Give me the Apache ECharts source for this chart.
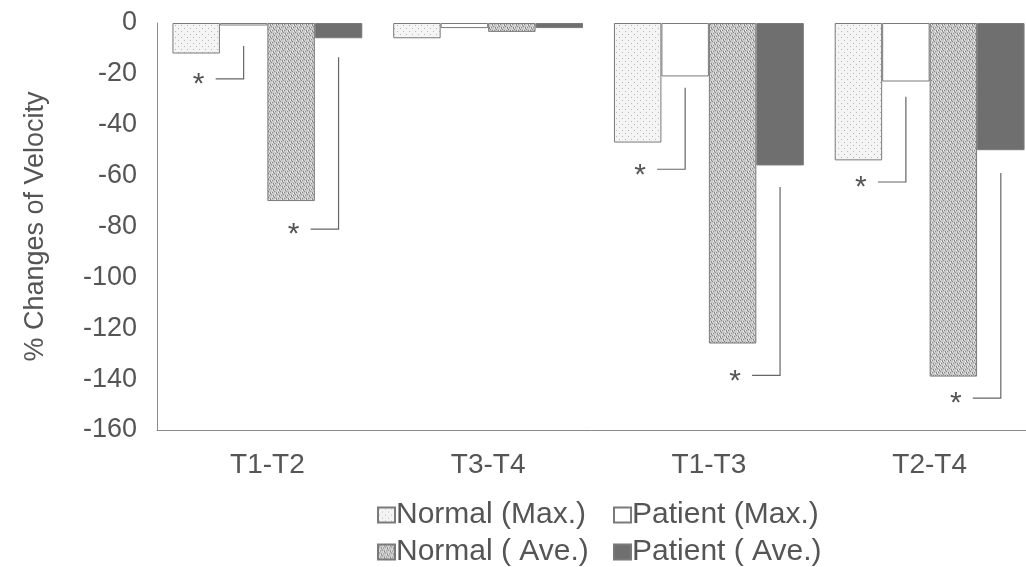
<!DOCTYPE html>
<html><head><meta charset="utf-8">
<script src="https://cdn.jsdelivr.net/npm/echarts@6/dist/echarts.min.js"></script>
<style>html,body{margin:0;padding:0;background:#fff}#c{width:1026px;height:567px}</style>
</head><body><div id="c"></div>
<script>
const categories = ['T1-T2', 'T3-T4', 'T1-T3', 'T2-T4'];
const normalMax = [-12, -6, -47, -54];
const patientMax = [-1, -2, -21, -23];
const normalAve = [-70, -3.5, -126, -139];
const patientAve = [-6, -2, -56, -50];
const seriesNames = ['Normal (Max.)', 'Patient (Max.)', 'Normal ( Ave.)', 'Patient ( Ave.)'];
const yTicks = { min: -160, max: 0, step: 20 };
// significance brackets: [categoryIndex, topValue, bottomValue, seriesIndexOfBar]
const brackets = [
  [0, -9, -22, 1], [0, -13.5, -81, 3],
  [2, -25.5, -57.5, 1], [2, -64.5, -138.5, 3],
  [3, -29, -62.5, 1], [3, -59, -147.5, 3]
];

function makePattern(w, h, draw) {
  const cv = document.createElement('canvas');
  cv.width = w; cv.height = h;
  const ctx = cv.getContext('2d');
  draw(ctx);
  return { image: cv, repeat: 'repeat' };
}
const dotPattern = makePattern(6, 6, ctx => {
  ctx.fillStyle = '#f4f4f4'; ctx.fillRect(0, 0, 6, 6);
  ctx.fillStyle = '#b8b8b8'; ctx.fillRect(1, 1, 1, 1); ctx.fillRect(4, 4, 1, 1);
});
const wovenPattern = makePattern(6, 6, ctx => {
  ctx.fillStyle = '#c9c9c9'; ctx.fillRect(0, 0, 6, 6);
  ctx.fillStyle = '#8a8a8a';
  ctx.fillRect(0, 0, 1, 2); ctx.fillRect(1, 2, 1, 1); ctx.fillRect(3, 3, 1, 2); ctx.fillRect(4, 5, 1, 1);
  ctx.fillRect(2, 0, 1, 1); ctx.fillRect(5, 3, 1, 1);
  ctx.fillStyle = '#eeeeee';
  ctx.fillRect(1, 0, 1, 1); ctx.fillRect(4, 3, 1, 1); ctx.fillRect(2, 4, 1, 1); ctx.fillRect(5, 1, 1, 1);
});
const fills = [dotPattern, '#ffffff', wovenPattern, '#6f6f6f'];
const values = [normalMax, patientMax, normalAve, patientAve];

const chart = echarts.init(document.getElementById('c'), null, { renderer: 'canvas' });
const txt = '#555555';
const font = 'Liberation Sans, Arial, sans-serif';

const barSeries = values.map((v, i) => ({
  name: seriesNames[i], type: 'bar', data: v,
  barGap: '0%', barCategoryGap: '14%',
  itemStyle: { color: fills[i], borderColor: '#7a7a7a', borderWidth: 1 },
  emphasis: { disabled: true }, animation: false
}));

const bracketSeries = {
  type: 'custom', silent: true, animation: false,
  data: brackets,
  renderItem: function (params, api) {
    const cat = api.value(0);
    const top = api.coord([cat, api.value(1)]);
    const bot = api.coord([cat, api.value(2)]);
    const band = api.size([1, 0])[0];
    const bw = band * 0.86 / 4;
    const x = top[0] - 2 * bw + (api.value(3) + 0.5) * bw;
    return {
      type: 'group', children: [
        { type: 'polyline', shape: { points: [[x, top[1]], [x, bot[1]], [x - 28, bot[1]]] },
          style: { stroke: '#666', lineWidth: 1.2, fill: null } },
        { type: 'text', x: x - 45, y: bot[1] + 6,
          style: { text: '*', font: '30px ' + font, fill: '#555', align: 'center', verticalAlign: 'middle' } }
      ]
    };
  }
};

const legendBase = { itemWidth: 17, itemHeight: 15, itemGap: 0, textStyle: { fontSize: 30, color: txt, fontFamily: font, padding: [0, 0, 0, -4] }, icon: 'rect', selectedMode: false };
chart.setOption({
  animation: false,
  textStyle: { fontFamily: font },
  grid: { left: 157, width: 883, top: 23, bottom: 137, containLabel: false, outerBoundsMode: 'none' },
  legend: [
    Object.assign({}, legendBase, { data: [seriesNames[0]], left: 372, top: 495 }),
    Object.assign({}, legendBase, { data: [seriesNames[1]], left: 608, top: 495 }),
    Object.assign({}, legendBase, { data: [seriesNames[2]], left: 372, top: 532 }),
    Object.assign({}, legendBase, { data: [seriesNames[3]], left: 608, top: 532 })
  ],
  xAxis: {
    type: 'category', data: categories, position: 'bottom',
    axisLine: { onZero: false, lineStyle: { color: '#8a8a8a', width: 1 } },
    axisTick: { show: false },
    axisLabel: { fontSize: 28, color: txt, margin: 21, fontFamily: font }
  },
  yAxis: {
    type: 'value', min: yTicks.min, max: yTicks.max, interval: yTicks.step,
    name: '% Changes of Velocity', nameLocation: 'middle', nameGap: 108, nameRotate: 90,
    nameTextStyle: { fontSize: 27, color: txt, fontFamily: font },
    axisLine: { show: true, lineStyle: { color: '#8a8a8a', width: 1 } },
    axisTick: { show: false },
    splitLine: { show: false },
    axisLabel: { fontSize: 27, color: txt, margin: 20, fontFamily: font }
  },
  series: barSeries.concat([bracketSeries])
});
</script></body></html>
